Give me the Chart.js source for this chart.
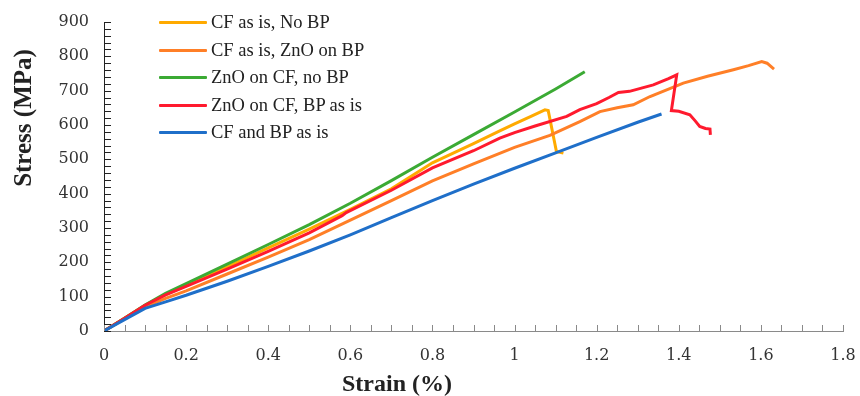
<!DOCTYPE html>
<html>
<head>
<meta charset="utf-8">
<script src="https://cdn.jsdelivr.net/npm/chart.js@4/dist/chart.umd.min.js"></script>
<style>
  html, body { margin: 0; padding: 0; background: #fff; }
  #wrap { position: relative; width: 860px; height: 396px; }
  #legend { position: absolute; left: 159px; top: 9px; font-family: "Liberation Serif", serif; font-size: 18.5px; color: #222; }
  .row { height: 27.5px; display: flex; align-items: center; white-space: nowrap; }
  .swatch { width: 48px; height: 3px; margin-right: 4px; border-radius: 1px; }
  .axis-title { position: absolute; width: 200px; line-height: 26px; text-align: center;
                font-family: "Liberation Serif", serif; font-weight: bold; color: #222; }
  #ytitle { left: -77px; top: 105px; font-size: 25px; transform: rotate(-90deg); }
  #xtitle { left: 297px; top: 370px; font-size: 24px; }
</style>
</head>
<body>
<div id="wrap">
  <canvas id="chart" width="860" height="396"></canvas>
  <div id="ytitle" class="axis-title">Stress (MPa)</div>
  <div id="xtitle" class="axis-title">Strain (%)</div>
  <div id="legend"></div>
</div>
<script>
// Series labels and colours (legend order)
const seriesNames = ['CF as is, No BP', 'CF as is, ZnO on BP', 'ZnO on CF, no BP', 'ZnO on CF, BP as is', 'CF and BP as is'];
const seriesColors = ['#FFAA00', '#FF7F27', '#3BAA34', '#FF1A2E', '#1F6FC9'];

// Strain (%) / Stress (MPa)
const noBpStrain = [0, 0.05, 0.1, 0.15, 0.2, 0.3, 0.4, 0.5, 0.6, 0.7, 0.8, 0.9, 0.964, 1.0, 1.04, 1.074, 1.082, 1.102, 1.119];
const noBpStress = [0, 37, 75, 106, 132, 187, 242, 297, 354, 414, 490, 546, 583, 603, 625, 644, 642, 523, 518];

const znoBpStrain = [0, 0.05, 0.1, 0.15, 0.2, 0.3, 0.4, 0.5, 0.6, 0.7, 0.8, 0.9, 1.0, 1.086, 1.159, 1.208, 1.25, 1.289, 1.33, 1.411, 1.47, 1.533, 1.57, 1.602, 1.615, 1.632];
const znoBpStress = [0, 36, 70, 95, 117, 166, 215, 266, 323, 380, 437, 487, 535, 570, 610, 639, 650, 659, 683, 722, 742, 761, 773, 785, 780, 763];

const znoCfStrain = [0, 0.05, 0.1, 0.15, 0.2, 0.3, 0.4, 0.5, 0.6, 0.7, 0.8, 0.9, 1.0, 1.1, 1.171];
const znoCfStress = [0, 37, 76, 110, 138, 195, 252, 310, 372, 438, 506, 572, 638, 705, 755];

const znoCfBpStrain = [0, 0.05, 0.1, 0.15, 0.2, 0.3, 0.4, 0.5, 0.58, 0.59, 0.7, 0.8, 0.9, 0.964, 1.0, 1.05, 1.127, 1.159, 1.2, 1.23, 1.253, 1.28, 1.338, 1.375, 1.395, 1.382, 1.4, 1.427, 1.44, 1.451, 1.465, 1.476, 1.477];
const znoCfBpStress = [0, 37, 75, 105, 130, 180, 232, 286, 336, 345, 410, 475, 525, 562, 578, 597, 625, 645, 662, 680, 695, 698, 717, 735, 746, 642, 640, 630, 612, 596, 590, 588, 571];

const asIsStrain = [0, 0.05, 0.1, 0.15, 0.2, 0.3, 0.4, 0.5, 0.6, 0.7, 0.8, 0.9, 1.0, 1.1, 1.2, 1.3, 1.358];
const asIsStress = [0, 33, 66, 85, 104, 145, 188, 233, 280, 330, 380, 428, 474, 519, 564, 608, 632];

const seriesStrain = [noBpStrain, znoBpStrain, znoCfStrain, znoCfBpStrain, asIsStrain];
const seriesStress = [noBpStress, znoBpStress, znoCfStress, znoCfBpStress, asIsStress];

// Axis ticks
const xTicks = [0, 0.2, 0.4, 0.6, 0.8, 1, 1.2, 1.4, 1.6, 1.8];
const yTicks = [0, 100, 200, 300, 400, 500, 600, 700, 800, 900];
const xMinorStep = 0.05;
const yMinorStep = 20;

// Little inward tick marks, like the original spreadsheet chart
const innerTicks = {
  id: 'innerTicks',
  afterDatasetsDraw(chart) {
    const { ctx, chartArea, scales: { x, y } } = chart;
    ctx.save();
    ctx.lineWidth = 1;
    ctx.strokeStyle = '#8a8a8a';
    ctx.beginPath();
    for (let v = 0; v <= x.max + 1e-9; v += xMinorStep) {
      const px = Math.round(x.getPixelForValue(v)) + 0.5;
      ctx.moveTo(px, chartArea.bottom);
      ctx.lineTo(px, chartArea.bottom - 6);
    }
    ctx.stroke();
    ctx.strokeStyle = '#222';
    ctx.beginPath();
    for (let v = 0; v <= y.max + 1e-9; v += yMinorStep) {
      const py = Math.round(y.getPixelForValue(v)) + 0.5;
      ctx.moveTo(chartArea.left, py);
      ctx.lineTo(chartArea.left + 7, py);
    }
    ctx.stroke();
    ctx.restore();
  }
};

const datasets = seriesNames.map((name, i) => ({
  label: name,
  data: seriesStrain[i].map((s, j) => ({ x: s, y: seriesStress[i][j] })),
  borderColor: seriesColors[i],
  backgroundColor: seriesColors[i],
  borderWidth: 3,
  pointRadius: 0,
  showLine: true,
  tension: 0,
  order: seriesNames.length - i
}));

const tickFont = { family: 'DejaVu Serif', size: 16 };

new Chart(document.getElementById('chart'), {
  type: 'scatter',
  data: { datasets },
  plugins: [innerTicks],
  options: {
    responsive: false,
    animation: false,
    layout: { padding: { top: 22, right: 17, left: 0, bottom: 0 } },
    plugins: { legend: { display: false }, tooltip: { enabled: false } },
    scales: {
      x: {
        type: 'linear',
        min: 0,
        max: 1.8,
        afterBuildTicks: (scale) => { scale.ticks = xTicks.map(v => ({ value: v })); },
        // fixed box: keep the plot area where the original has it
        afterFit: (scale) => { scale.height = 65; scale.paddingLeft = 0; scale.paddingRight = 0; },
        grid: { display: false, drawTicks: false },
        border: { display: true, color: '#8a8a8a', width: 1 },
        ticks: {
          padding: 15,
          color: '#333',
          font: tickFont,
          callback: (v) => String(Number(v.toFixed(1)))
        }
      },
      y: {
        type: 'linear',
        min: 0,
        max: 900,
        afterBuildTicks: (scale) => { scale.ticks = yTicks.map(v => ({ value: v })); },
        afterFit: (scale) => { scale.width = 104; scale.paddingTop = 0; scale.paddingBottom = 0; },
        grid: { display: false, drawTicks: false },
        border: { display: true, color: '#222', width: 1 },
        ticks: {
          padding: 15,
          color: '#333',
          font: tickFont
        }
      }
    }
  }
});

// HTML legend built from the series arrays
const legendEl = document.getElementById('legend');
seriesNames.forEach((name, i) => {
  const row = document.createElement('div');
  row.className = 'row';
  row.innerHTML = `<span class="swatch" style="background:${seriesColors[i]}"></span><span>${name}</span>`;
  legendEl.appendChild(row);
});
</script>
</body>
</html>
